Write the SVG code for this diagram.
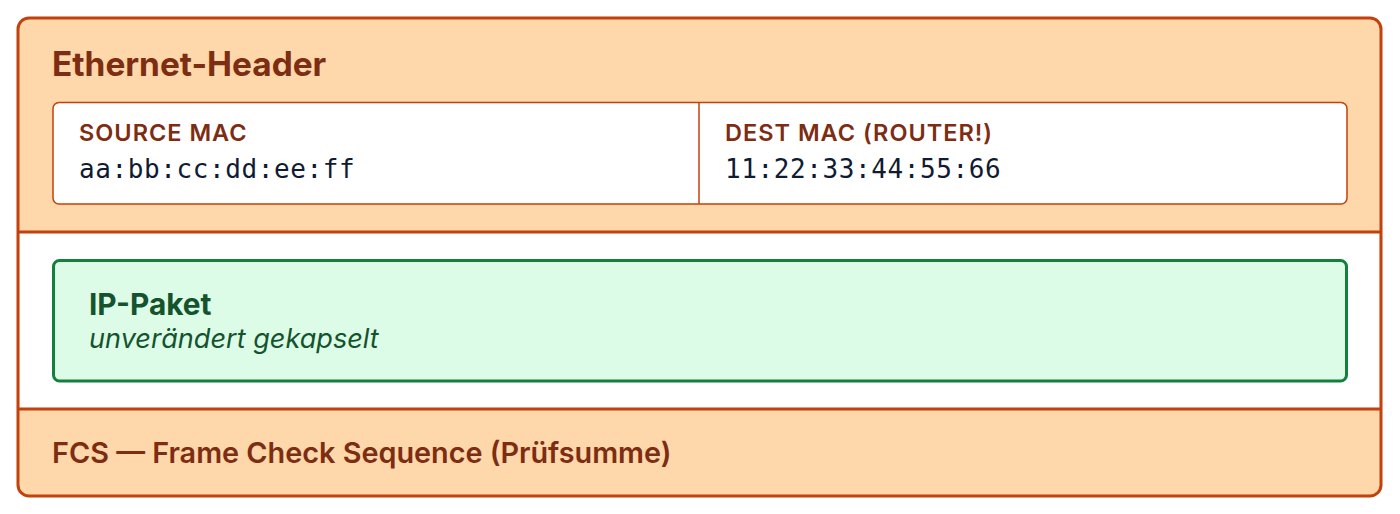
<svg xmlns="http://www.w3.org/2000/svg" width="1400" height="514" viewBox="0 0 1400 514">
<style>
.sans{font-family:Inter,"Noto Sans","Liberation Sans",sans-serif}
.mono{font-family:"DejaVu Sans Mono","Liberation Mono",monospace;fill:#0f1b33;font-size:26px;letter-spacing:0.6px}
.otext{fill:#7c2d12}
.lbl{font-size:23.5px;font-weight:600;letter-spacing:1px}
</style>
<rect width="1400" height="514" fill="#ffffff"/>
<g id="frame">
<rect x="18" y="18" width="1363" height="478" rx="11" fill="#fed7aa"/>
<rect x="19.5" y="232" width="1360" height="177" fill="#ffffff"/>
<line x1="18" y1="232" x2="1381" y2="232" stroke="#c2410c" stroke-width="3"/>
<line x1="18" y1="409" x2="1381" y2="409" stroke="#c2410c" stroke-width="3"/>
<rect x="18" y="18" width="1363" height="478" rx="11" fill="none" stroke="#c2410c" stroke-width="3"/>
</g>
<g id="ethernet-header">
<text class="sans otext" x="52" y="76" font-size="33.4" font-weight="700">Ethernet-Header</text>
</g>
<g id="mac-fields">
<rect x="53" y="102.5" width="1294" height="101.5" rx="6" fill="#ffffff" stroke="#c2410c" stroke-width="1.5"/>
<line x1="699" y1="102.5" x2="699" y2="204" stroke="#c2410c" stroke-width="1.5"/>
</g>
<g id="source-mac">
<text class="sans otext lbl" x="79" y="141">SOURCE MAC</text>
<text class="mono" x="79" y="178">aa:bb:cc:dd:ee:ff</text>
</g>
<g id="dest-mac">
<text class="sans otext lbl" x="725" y="141">DEST MAC (ROUTER!)</text>
<text class="mono" x="725" y="178">11:22:33:44:55:66</text>
</g>
<g id="ip-paket">
<rect x="53.5" y="260.5" width="1293" height="120.5" rx="6" fill="#dcfce7" stroke="#15803d" stroke-width="3"/>
<text class="sans" x="89" y="315" font-size="29.8" font-weight="700" fill="#14532d">IP-Paket</text>
<text class="sans" x="89" y="348" font-size="27.1" font-style="italic" fill="#14532d">unverändert gekapselt</text>
</g>
<g id="fcs">
<text class="sans otext" x="52" y="463" font-size="28.8" font-weight="600">FCS — Frame Check Sequence (Prüfsumme)</text>
</g>
<g id="connectors"/>
</svg>
